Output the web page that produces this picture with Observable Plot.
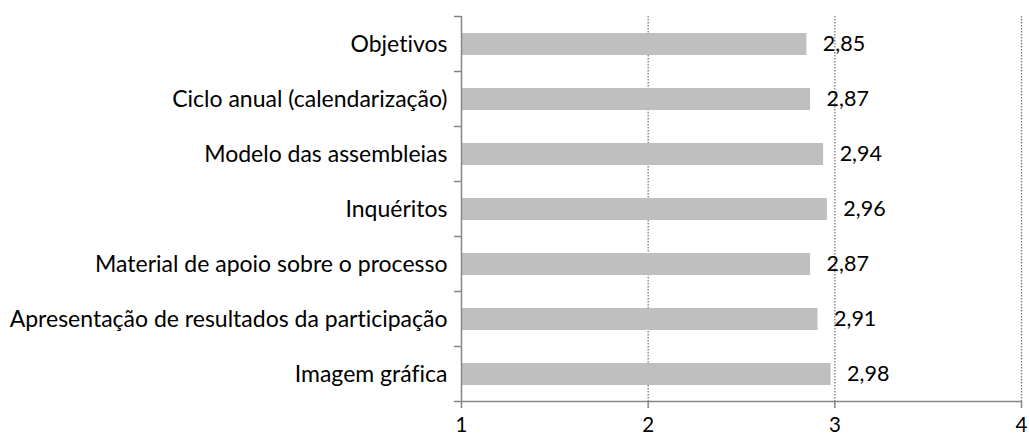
<!DOCTYPE html>
<html><head><meta charset="utf-8">
<script src="https://cdn.jsdelivr.net/npm/d3@7"></script>
<script src="https://cdn.jsdelivr.net/npm/@observablehq/plot@0.6"></script>
<style>body{margin:0;background:#fff} svg text{font-variant-ligatures:none}</style>
</head><body><div id="chart"></div>
<script>
const categories = [
  "Objetivos",
  "Ciclo anual (calendarização)",
  "Modelo das assembleias",
  "Inquéritos",
  "Material de apoio sobre o processo",
  "Apresentação de resultados da participação",
  "Imagem gráfica"
];
const values = [2.85, 2.87, 2.94, 2.96, 2.87, 2.91, 2.98];
const xTicks = [1, 2, 3, 4];
const gridTicks = [2, 3, 4];
const baseline = 1;

const data = categories.map((c, i) => ({cat: c, value: values[i], label: values[i].toFixed(2).replace(".", ",")}));

const axisColor = "#868686";

function boundaryTicks(index, scales, vals, dimensions) {
  const y = scales.y;
  const dom = y.domain();
  const bw = y.bandwidth();
  const step = y.step ? y.step() : (y(dom[1]) - y(dom[0]));
  const off = (step - bw) / 2;
  const x0 = scales.x(xTicks[0]);
  const x1 = scales.x(xTicks[xTicks.length - 1]);
  const ys = dom.map(d => y(d) - off).concat([y(dom[dom.length - 1]) + bw + off]);
  const g = d3.create("svg:g").attr("stroke", axisColor).attr("stroke-width", 1.5);
  for (const yy of ys) {
    g.append("line").attr("x1", x0 - 7).attr("x2", x0).attr("y1", yy).attr("y2", yy);
  }
  const yb = ys[ys.length - 1];
  g.append("line").attr("x1", x0).attr("x2", x1).attr("y1", yb).attr("y2", yb);
  return g.node();
}

const chart = Plot.plot({
  width: 1029,
  height: 439,
  marginLeft: 461,
  marginRight: 8,
  marginTop: 16,
  marginBottom: 38,
  style: {fontFamily: "Lato, sans-serif", fontSize: "21.5px", color: "#000", background: "#fff", overflow: "visible"},
  x: {domain: [1, 4], axis: null},
  y: {domain: categories, paddingInner: 0.6, paddingOuter: 0.3, axis: null, label: null},
  marks: [
    Plot.ruleX(gridTicks, {stroke: "#7a7a7a", strokeWidth: 1.3, strokeDasharray: "1.5,1.5"}),
    Plot.barX(data, {x1: baseline, x2: "value", y: "cat", fill: "#bfbfbf"}),
    Plot.ruleX([baseline], {stroke: axisColor, strokeWidth: 1.5}),
    boundaryTicks,
    Plot.axisX({ticks: xTicks, tickSize: 7, tickPadding: 9, stroke: axisColor, strokeWidth: 1.5, fill: "#000", fontSize: 20.5, tickFormat: d => String(d), label: null}),
    Plot.axisY({tickSize: 0, tickPadding: 14, fill: "#000", fontSize: 23, label: null}),
    Plot.text(data, {x: "value", y: "cat", text: "label", textAnchor: "start", dx: 16, fill: "#000", fontSize: 21.5})
  ]
});
document.getElementById("chart").appendChild(chart);
</script>
</body></html>
